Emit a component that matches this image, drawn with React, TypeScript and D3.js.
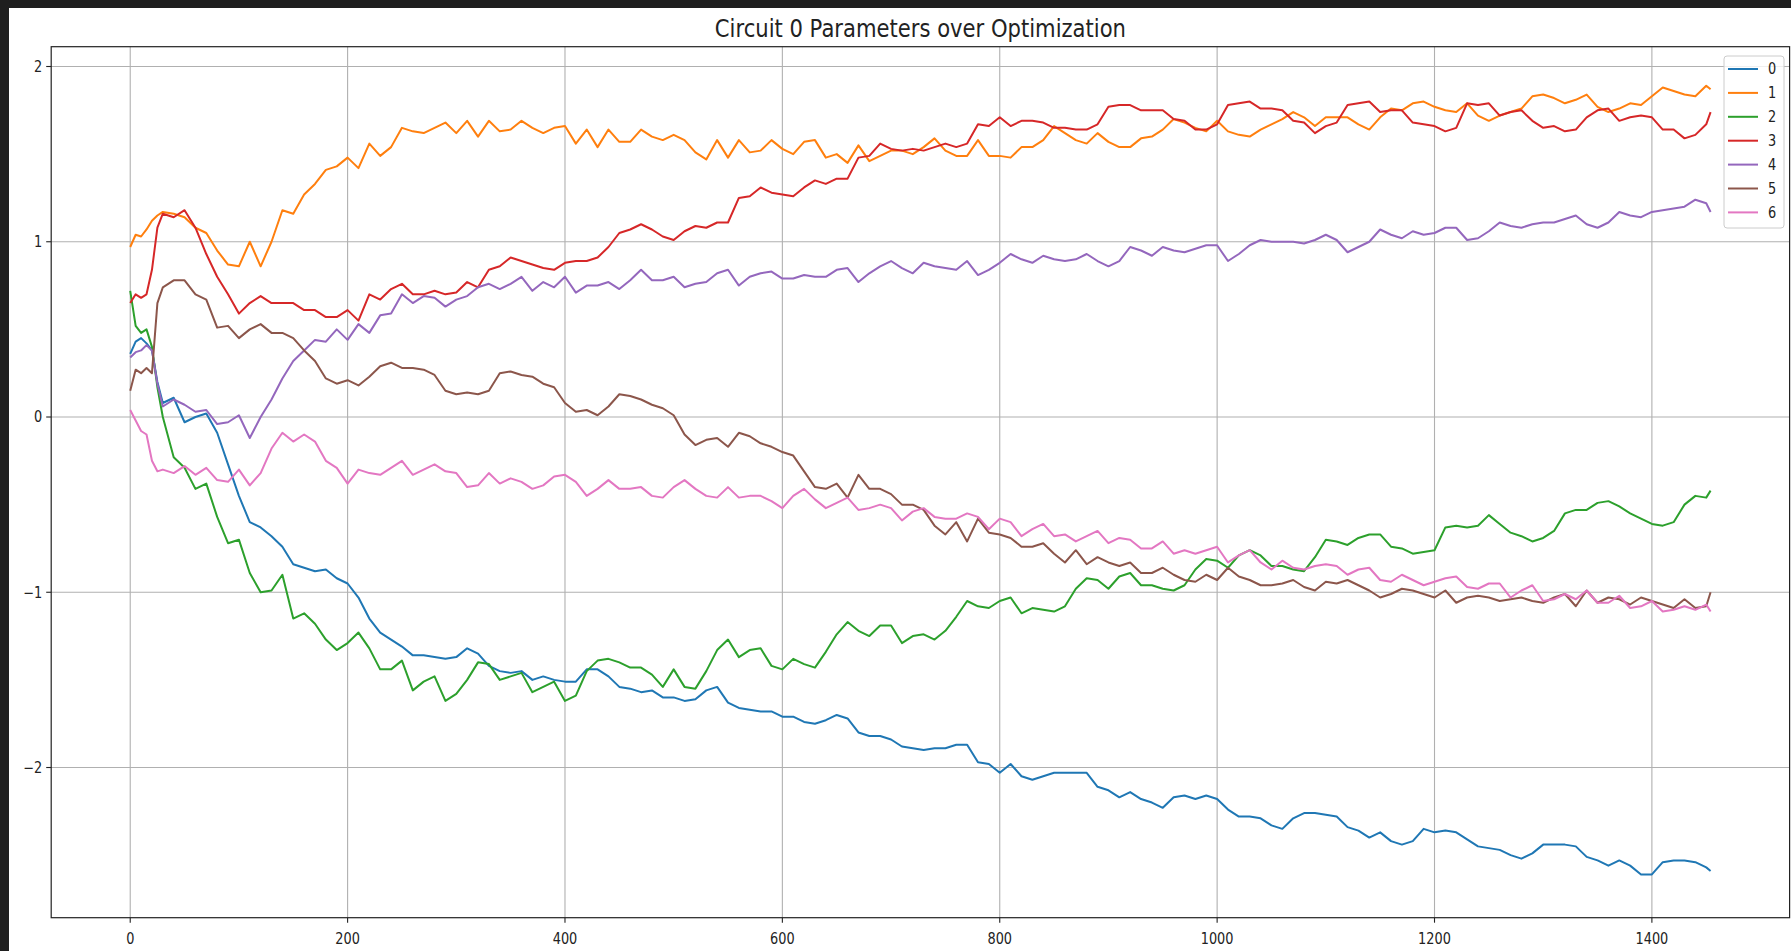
import React from "react";
import * as d3 from "d3";

const TITLE = "Circuit 0 Parameters over Optimization";
const SERIES_LABELS = ["0", "1", "2", "3", "4", "5", "6"];
const SERIES_COLORS = ["#1f77b4", "#ff7f0e", "#2ca02c", "#d62728", "#9467bd", "#8c564b", "#e377c2"];
const X_TICKS = [0, 200, 400, 600, 800, 1000, 1200, 1400];
const Y_TICKS = [-2, -1, 0, 1, 2];
const X_DOMAIN = [-72.7, 1526.7];
const Y_DOMAIN = [-2.857, 2.113];

const STEPS = [
  0, 5, 10, 15, 20, 25, 30,
  40, 50, 60, 70, 80, 90, 100, 110, 120, 130, 140, 150, 160, 170, 180, 190, 200, 210, 220, 230, 240, 250, 260, 270, 280, 290, 300, 310, 320, 330, 340, 350, 360, 370, 380, 390, 400, 410, 420, 430, 440, 450, 460, 470, 480, 490,
  500, 510, 520, 530, 540, 550, 560, 570, 580, 590, 600, 610, 620, 630, 640, 650, 660, 670, 680, 690, 700, 710, 720, 730, 740, 750, 760, 770, 780, 790, 800, 810, 820, 830, 840, 850, 860, 870, 880, 890, 900, 910, 920, 930, 940, 950, 960, 970,
  980, 990, 1000, 1010, 1020, 1030, 1040, 1050, 1060, 1070, 1080, 1090, 1100, 1110, 1120, 1130, 1140, 1150, 1160, 1170, 1180, 1190, 1200, 1210, 1220, 1230, 1240, 1250, 1260, 1270, 1280, 1290, 1300, 1310, 1320, 1330, 1340, 1350, 1360, 1370, 1380, 1390, 1400, 1410, 1420, 1430, 1440, 1450, 1454,
];

const PARAM_0 = [
  0.36, 0.43, 0.45, 0.42, 0.38, 0.20, 0.08,
  0.11, -0.03, 0.00, 0.02, -0.09, -0.27, -0.45, -0.60, -0.63, -0.68, -0.74, -0.84, -0.86, -0.88, -0.87, -0.92, -0.95, -1.03, -1.15, -1.23, -1.27, -1.31, -1.36, -1.36, -1.37, -1.38, -1.37, -1.32, -1.35, -1.42, -1.45, -1.46, -1.45, -1.50, -1.48, -1.50, -1.51, -1.51, -1.44, -1.44, -1.48, -1.54, -1.55, -1.57, -1.56, -1.60,
  -1.60, -1.62, -1.61, -1.56, -1.54, -1.63, -1.66, -1.67, -1.68, -1.68, -1.71, -1.71, -1.74, -1.75, -1.73, -1.70, -1.72, -1.80, -1.82, -1.82, -1.84, -1.88, -1.89, -1.90, -1.89, -1.89, -1.87, -1.87, -1.97, -1.98, -2.03, -1.98, -2.05, -2.07, -2.05, -2.03, -2.03, -2.03, -2.03, -2.11, -2.13, -2.17, -2.14, -2.18, -2.20, -2.23, -2.17, -2.16,
  -2.18, -2.16, -2.18, -2.24, -2.28, -2.28, -2.29, -2.33, -2.35, -2.29, -2.26, -2.26, -2.27, -2.28, -2.34, -2.36, -2.40, -2.37, -2.42, -2.44, -2.42, -2.35, -2.37, -2.36, -2.37, -2.41, -2.45, -2.46, -2.47, -2.50, -2.52, -2.49, -2.44, -2.44, -2.44, -2.45, -2.51, -2.53, -2.56, -2.53, -2.56, -2.61, -2.61, -2.54, -2.53, -2.53, -2.54, -2.57, -2.59,
];

const PARAM_1 = [
  0.97, 1.04, 1.03, 1.07, 1.12, 1.15, 1.17,
  1.16, 1.14, 1.08, 1.05, 0.95, 0.87, 0.86, 1.00, 0.86, 1.00, 1.18, 1.16, 1.27, 1.33, 1.41, 1.43, 1.48, 1.42, 1.56, 1.49, 1.54, 1.65, 1.63, 1.62, 1.65, 1.68, 1.62, 1.69, 1.60, 1.69, 1.63, 1.64, 1.69, 1.65, 1.62, 1.65, 1.66, 1.56, 1.64, 1.54, 1.64, 1.57, 1.57, 1.64, 1.60, 1.58,
  1.61, 1.58, 1.51, 1.47, 1.58, 1.48, 1.58, 1.51, 1.52, 1.58, 1.53, 1.50, 1.57, 1.58, 1.48, 1.50, 1.45, 1.55, 1.46, 1.49, 1.52, 1.52, 1.50, 1.54, 1.59, 1.52, 1.49, 1.49, 1.58, 1.49, 1.49, 1.48, 1.54, 1.54, 1.58, 1.66, 1.62, 1.58, 1.56, 1.62, 1.57, 1.54, 1.54, 1.59, 1.60, 1.64, 1.70, 1.68,
  1.65, 1.63, 1.69, 1.63, 1.61, 1.60, 1.64, 1.67, 1.70, 1.74, 1.71, 1.66, 1.71, 1.71, 1.71, 1.67, 1.64, 1.71, 1.76, 1.75, 1.79, 1.80, 1.77, 1.75, 1.74, 1.79, 1.72, 1.69, 1.72, 1.74, 1.76, 1.83, 1.84, 1.82, 1.79, 1.81, 1.84, 1.77, 1.74, 1.76, 1.79, 1.78, 1.83, 1.88, 1.86, 1.84, 1.83, 1.89, 1.87,
];

const PARAM_2 = [
  0.72, 0.52, 0.48, 0.50, 0.40, 0.17, 0.00,
  -0.23, -0.29, -0.41, -0.38, -0.57, -0.72, -0.70, -0.89, -1.00, -0.99, -0.90, -1.15, -1.12, -1.18, -1.27, -1.33, -1.29, -1.23, -1.32, -1.44, -1.44, -1.39, -1.56, -1.51, -1.48, -1.62, -1.58, -1.50, -1.40, -1.41, -1.50, -1.48, -1.46, -1.57, -1.54, -1.51, -1.62, -1.59, -1.45, -1.39, -1.38, -1.40, -1.43, -1.43, -1.47, -1.54,
  -1.44, -1.54, -1.55, -1.45, -1.33, -1.27, -1.37, -1.33, -1.32, -1.42, -1.44, -1.38, -1.41, -1.43, -1.34, -1.24, -1.17, -1.22, -1.25, -1.19, -1.19, -1.29, -1.25, -1.24, -1.27, -1.22, -1.14, -1.05, -1.08, -1.09, -1.05, -1.03, -1.12, -1.09, -1.10, -1.11, -1.08, -0.98, -0.92, -0.93, -0.98, -0.91, -0.89, -0.96, -0.96, -0.98, -0.99, -0.96,
  -0.87, -0.81, -0.82, -0.86, -0.79, -0.76, -0.79, -0.85, -0.85, -0.87, -0.88, -0.80, -0.70, -0.71, -0.73, -0.69, -0.67, -0.67, -0.74, -0.75, -0.78, -0.77, -0.76, -0.63, -0.62, -0.63, -0.62, -0.56, -0.61, -0.66, -0.68, -0.71, -0.69, -0.65, -0.55, -0.53, -0.53, -0.49, -0.48, -0.51, -0.55, -0.58, -0.61, -0.62, -0.60, -0.50, -0.45, -0.46, -0.42,
];

const PARAM_3 = [
  0.65, 0.70, 0.68, 0.70, 0.84, 1.08, 1.16,
  1.14, 1.18, 1.08, 0.93, 0.80, 0.70, 0.59, 0.65, 0.69, 0.65, 0.65, 0.65, 0.61, 0.61, 0.57, 0.57, 0.61, 0.55, 0.70, 0.67, 0.73, 0.76, 0.70, 0.70, 0.72, 0.70, 0.71, 0.77, 0.74, 0.84, 0.86, 0.91, 0.89, 0.87, 0.85, 0.84, 0.88, 0.89, 0.89, 0.91, 0.97, 1.05, 1.07, 1.10, 1.07, 1.03,
  1.01, 1.06, 1.09, 1.08, 1.11, 1.11, 1.25, 1.26, 1.31, 1.28, 1.27, 1.26, 1.31, 1.35, 1.33, 1.36, 1.36, 1.48, 1.49, 1.56, 1.53, 1.52, 1.53, 1.52, 1.54, 1.56, 1.54, 1.56, 1.67, 1.66, 1.71, 1.66, 1.69, 1.69, 1.68, 1.65, 1.65, 1.64, 1.64, 1.67, 1.77, 1.78, 1.78, 1.75, 1.75, 1.75, 1.70, 1.69,
  1.64, 1.64, 1.67, 1.78, 1.79, 1.80, 1.76, 1.76, 1.75, 1.69, 1.68, 1.62, 1.66, 1.68, 1.78, 1.79, 1.80, 1.74, 1.75, 1.75, 1.68, 1.67, 1.66, 1.63, 1.65, 1.79, 1.78, 1.79, 1.72, 1.74, 1.75, 1.69, 1.65, 1.66, 1.63, 1.64, 1.71, 1.75, 1.76, 1.69, 1.71, 1.72, 1.71, 1.64, 1.64, 1.59, 1.61, 1.67, 1.74,
];

const PARAM_4 = [
  0.34, 0.37, 0.38, 0.41, 0.38, 0.19, 0.06,
  0.10, 0.07, 0.03, 0.04, -0.04, -0.03, 0.01, -0.12, 0.00, 0.10, 0.22, 0.32, 0.38, 0.44, 0.43, 0.50, 0.44, 0.53, 0.48, 0.58, 0.59, 0.70, 0.65, 0.69, 0.68, 0.63, 0.67, 0.69, 0.74, 0.76, 0.73, 0.76, 0.80, 0.72, 0.77, 0.74, 0.80, 0.71, 0.75, 0.75, 0.77, 0.73, 0.78, 0.84, 0.78, 0.78,
  0.80, 0.74, 0.76, 0.77, 0.82, 0.84, 0.75, 0.80, 0.82, 0.83, 0.79, 0.79, 0.81, 0.80, 0.80, 0.84, 0.85, 0.77, 0.82, 0.86, 0.89, 0.85, 0.82, 0.88, 0.86, 0.85, 0.84, 0.89, 0.81, 0.84, 0.88, 0.93, 0.90, 0.88, 0.92, 0.90, 0.89, 0.90, 0.93, 0.89, 0.86, 0.89, 0.97, 0.95, 0.92, 0.97, 0.95, 0.94,
  0.96, 0.98, 0.98, 0.89, 0.93, 0.98, 1.01, 1.00, 1.00, 1.00, 0.99, 1.01, 1.04, 1.01, 0.94, 0.97, 1.00, 1.07, 1.04, 1.02, 1.06, 1.04, 1.05, 1.08, 1.08, 1.01, 1.02, 1.06, 1.11, 1.09, 1.08, 1.10, 1.11, 1.11, 1.13, 1.15, 1.10, 1.08, 1.11, 1.17, 1.15, 1.14, 1.17, 1.18, 1.19, 1.20, 1.24, 1.22, 1.17,
];

const PARAM_5 = [
  0.15, 0.27, 0.25, 0.28, 0.25, 0.65, 0.74,
  0.78, 0.78, 0.70, 0.67, 0.51, 0.52, 0.45, 0.50, 0.53, 0.48, 0.48, 0.45, 0.38, 0.32, 0.22, 0.19, 0.21, 0.18, 0.23, 0.29, 0.31, 0.28, 0.28, 0.27, 0.24, 0.15, 0.13, 0.14, 0.13, 0.15, 0.25, 0.26, 0.24, 0.23, 0.19, 0.17, 0.08, 0.03, 0.04, 0.01, 0.06, 0.13, 0.12, 0.10, 0.07, 0.05,
  0.01, -0.10, -0.16, -0.13, -0.12, -0.17, -0.09, -0.11, -0.15, -0.17, -0.20, -0.22, -0.31, -0.40, -0.41, -0.38, -0.46, -0.33, -0.41, -0.41, -0.44, -0.50, -0.50, -0.53, -0.62, -0.67, -0.60, -0.71, -0.58, -0.66, -0.67, -0.69, -0.74, -0.74, -0.72, -0.78, -0.83, -0.76, -0.84, -0.80, -0.83, -0.85, -0.83, -0.89, -0.89, -0.86, -0.90, -0.93,
  -0.94, -0.90, -0.93, -0.86, -0.91, -0.93, -0.96, -0.96, -0.95, -0.93, -0.97, -0.99, -0.94, -0.95, -0.93, -0.96, -0.99, -1.03, -1.01, -0.98, -0.99, -1.01, -1.03, -0.99, -1.06, -1.03, -1.02, -1.03, -1.05, -1.04, -1.03, -1.05, -1.06, -1.03, -1.01, -1.08, -0.99, -1.06, -1.03, -1.04, -1.07, -1.03, -1.05, -1.07, -1.09, -1.04, -1.09, -1.08, -1.00,
];

const PARAM_6 = [
  0.04, -0.02, -0.08, -0.10, -0.25, -0.31, -0.30,
  -0.32, -0.28, -0.33, -0.29, -0.36, -0.37, -0.30, -0.39, -0.32, -0.18, -0.09, -0.14, -0.10, -0.14, -0.25, -0.29, -0.38, -0.30, -0.32, -0.33, -0.29, -0.25, -0.33, -0.30, -0.27, -0.31, -0.32, -0.40, -0.39, -0.32, -0.38, -0.35, -0.37, -0.41, -0.39, -0.34, -0.33, -0.37, -0.45, -0.41, -0.36, -0.41, -0.41, -0.40, -0.45, -0.46,
  -0.40, -0.36, -0.41, -0.45, -0.46, -0.40, -0.46, -0.45, -0.45, -0.48, -0.52, -0.45, -0.41, -0.47, -0.52, -0.49, -0.46, -0.53, -0.52, -0.50, -0.52, -0.59, -0.54, -0.52, -0.57, -0.58, -0.58, -0.55, -0.57, -0.64, -0.58, -0.60, -0.68, -0.64, -0.61, -0.68, -0.67, -0.71, -0.68, -0.65, -0.72, -0.69, -0.70, -0.75, -0.75, -0.71, -0.78, -0.76,
  -0.78, -0.76, -0.74, -0.83, -0.79, -0.76, -0.83, -0.87, -0.82, -0.86, -0.87, -0.85, -0.84, -0.85, -0.90, -0.87, -0.86, -0.93, -0.94, -0.90, -0.93, -0.96, -0.94, -0.92, -0.91, -0.97, -0.98, -0.95, -0.95, -1.03, -0.99, -0.96, -1.05, -1.04, -1.01, -1.04, -0.99, -1.06, -1.06, -1.02, -1.09, -1.08, -1.05, -1.11, -1.10, -1.08, -1.10, -1.07, -1.11,
];

const SERIES = [PARAM_0, PARAM_1, PARAM_2, PARAM_3, PARAM_4, PARAM_5, PARAM_6];

const W = 1791;
const H = 951;
const PLOT = { left: 51.2, right: 1789.6, top: 46.7, bottom: 917.7 };
const FONT = "'DejaVu Sans', sans-serif";
const TICK_FS = 15;
const TICK_SX = 0.86;

const fmt = (v: number) => (v < 0 ? "\u2212" + Math.abs(v) : String(v));

export default function App() {
  const x = d3.scaleLinear().domain(X_DOMAIN).range([PLOT.left, PLOT.right]);
  const y = d3.scaleLinear().domain(Y_DOMAIN).range([PLOT.bottom, PLOT.top]);
  const line = d3
    .line<number>()
    .x((_, i) => x(STEPS[i]))
    .y((d) => y(d));

  const legendX = 1724;
  const legendY = 56;
  const legendRow = 23.9;

  return (
    <svg
      width={W}
      height={H}
      style={{ position: "absolute", left: 0, top: 0, display: "block" }}
      fontFamily={FONT}
    >
      <rect x={0} y={0} width={W} height={H} fill="#1f1f1f" />
      <rect x={9} y={8} width={W - 9} height={H - 8} fill="#ffffff" />

      <defs>
        <clipPath id="plotclip">
          <rect x={PLOT.left} y={PLOT.top} width={PLOT.right - PLOT.left} height={PLOT.bottom - PLOT.top} />
        </clipPath>
      </defs>

      {X_TICKS.map((t) => (
        <line key={"gx" + t} x1={x(t)} x2={x(t)} y1={PLOT.top} y2={PLOT.bottom} stroke="#b0b0b0" strokeWidth={1.1} />
      ))}
      {Y_TICKS.map((t) => (
        <line key={"gy" + t} x1={PLOT.left} x2={PLOT.right} y1={y(t)} y2={y(t)} stroke="#b0b0b0" strokeWidth={1.1} />
      ))}

      <g clipPath="url(#plotclip)">
        {SERIES.map((s, i) => (
          <path
            key={"s" + i}
            d={line(s) || ""}
            fill="none"
            stroke={SERIES_COLORS[i]}
            strokeWidth={2}
            strokeLinejoin="round"
            strokeLinecap="butt"
          />
        ))}
      </g>

      <rect
        x={PLOT.left}
        y={PLOT.top}
        width={PLOT.right - PLOT.left}
        height={PLOT.bottom - PLOT.top}
        fill="none"
        stroke="#222"
        strokeWidth={1.2}
      />

      {X_TICKS.map((t) => (
        <g key={"tx" + t}>
          <line x1={x(t)} x2={x(t)} y1={PLOT.bottom} y2={PLOT.bottom + 5} stroke="#222" strokeWidth={1.1} />
          <text
            transform={`translate(${x(t)},${PLOT.bottom + 26}) scale(${TICK_SX},1)`}
            textAnchor="middle"
            fontSize={TICK_FS}
            fill="#222"
          >
            {fmt(t)}
          </text>
        </g>
      ))}

      {Y_TICKS.map((t) => (
        <g key={"ty" + t}>
          <line x1={PLOT.left - 5} x2={PLOT.left} y1={y(t)} y2={y(t)} stroke="#222" strokeWidth={1.1} />
          <text
            transform={`translate(${PLOT.left - 9},${y(t) + 5.4}) scale(${TICK_SX},1)`}
            textAnchor="end"
            fontSize={TICK_FS}
            fill="#222"
          >
            {fmt(t)}
          </text>
        </g>
      ))}

      <text
        transform={`translate(${(PLOT.left + PLOT.right) / 2},${37}) scale(0.88,1)`}
        textAnchor="middle"
        fontSize={24}
        fill="#222"
      >
        {TITLE}
      </text>

      <rect
        x={legendX}
        y={legendY}
        width={60}
        height={172}
        rx={3}
        fill="#ffffff"
        fillOpacity={0.8}
        stroke="#cccccc"
        strokeWidth={1}
      />
      {SERIES_LABELS.map((lab, i) => {
        const cy = legendY + 13 + i * legendRow;
        return (
          <g key={"lg" + i}>
            <line x1={legendX + 4} x2={legendX + 34} y1={cy} y2={cy} stroke={SERIES_COLORS[i]} strokeWidth={2} />
            <text
              transform={`translate(${legendX + 44},${cy + 5.4}) scale(${TICK_SX},1)`}
              fontSize={TICK_FS}
              fill="#222"
            >
              {lab}
            </text>
          </g>
        );
      })}
    </svg>
  );
}
